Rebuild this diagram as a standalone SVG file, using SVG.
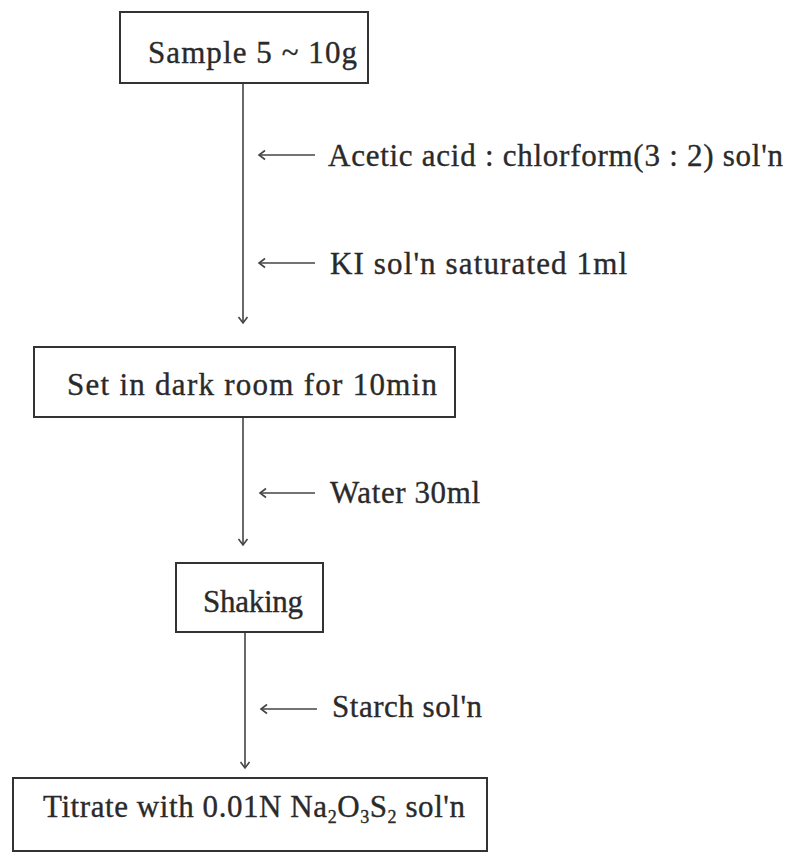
<svg xmlns="http://www.w3.org/2000/svg" width="789" height="853" viewBox="0 0 789 853">
<style>
.box{fill:#fff;stroke:#333;stroke-width:2}
.t{font-family:"Liberation Serif","DejaVu Serif",serif;font-size:31px;fill:#2a2a2a;stroke:#2a2a2a;stroke-width:0.35}
.ln{stroke:#444;stroke-width:1.6;fill:none}
</style>
<defs>
<marker id="ah" markerWidth="12" markerHeight="12" refX="10" refY="6" orient="auto" markerUnits="userSpaceOnUse">
<path d="M4,1.5 L10,6 L4,10.5" fill="none" stroke="#444" stroke-width="1.6"/>
</marker>
</defs>
<rect width="789" height="853" fill="#fff"/>
<g id="connectors">
<line class="ln" x1="243" y1="83" x2="243" y2="323" marker-end="url(#ah)"/>
<line class="ln" x1="243" y1="417" x2="243" y2="545" marker-end="url(#ah)"/>
<line class="ln" x1="245" y1="632" x2="245" y2="768" marker-end="url(#ah)"/>
<line class="ln" x1="315" y1="155" x2="259" y2="155" marker-end="url(#ah)"/>
<line class="ln" x1="315" y1="263" x2="259" y2="263" marker-end="url(#ah)"/>
<line class="ln" x1="315" y1="493" x2="260" y2="493" marker-end="url(#ah)"/>
<line class="ln" x1="317" y1="709" x2="261" y2="709" marker-end="url(#ah)"/>
</g>
<g id="label-acetic"><text class="t" x="328" y="166" textLength="455">Acetic acid : chlorform(3 : 2) sol'n</text></g>
<g id="label-ki"><text class="t" x="330" y="274" textLength="297">KI sol'n saturated 1ml</text></g>
<g id="label-water"><text class="t" x="330" y="503" textLength="150">Water 30ml</text></g>
<g id="label-starch"><text class="t" x="332" y="717" textLength="150">Starch sol'n</text></g>
<g id="node-sample">
<rect class="box" x="120" y="12" width="248" height="71"/>
<text class="t" x="148" y="63" textLength="209">Sample 5 ~ 10g</text>
</g>
<g id="node-dark">
<rect class="box" x="34" y="347" width="421" height="70"/>
<text class="t" x="67" y="395" textLength="370">Set in dark room for 10min</text>
</g>
<g id="node-shaking">
<rect class="box" x="176" y="563" width="147" height="69"/>
<text class="t" x="203" y="612" textLength="100">Shaking</text>
</g>
<g id="node-titrate">
<rect class="box" x="13" y="778" width="474" height="73"/>
<text class="t" x="43" y="817" textLength="422">Titrate with 0.01N Na<tspan font-size="18" dy="6">2</tspan><tspan dy="-6">O</tspan><tspan font-size="18" dy="6">3</tspan><tspan dy="-6">S</tspan><tspan font-size="18" dy="6">2</tspan><tspan dy="-6"> sol'n</tspan></text>
</g>
</svg>
